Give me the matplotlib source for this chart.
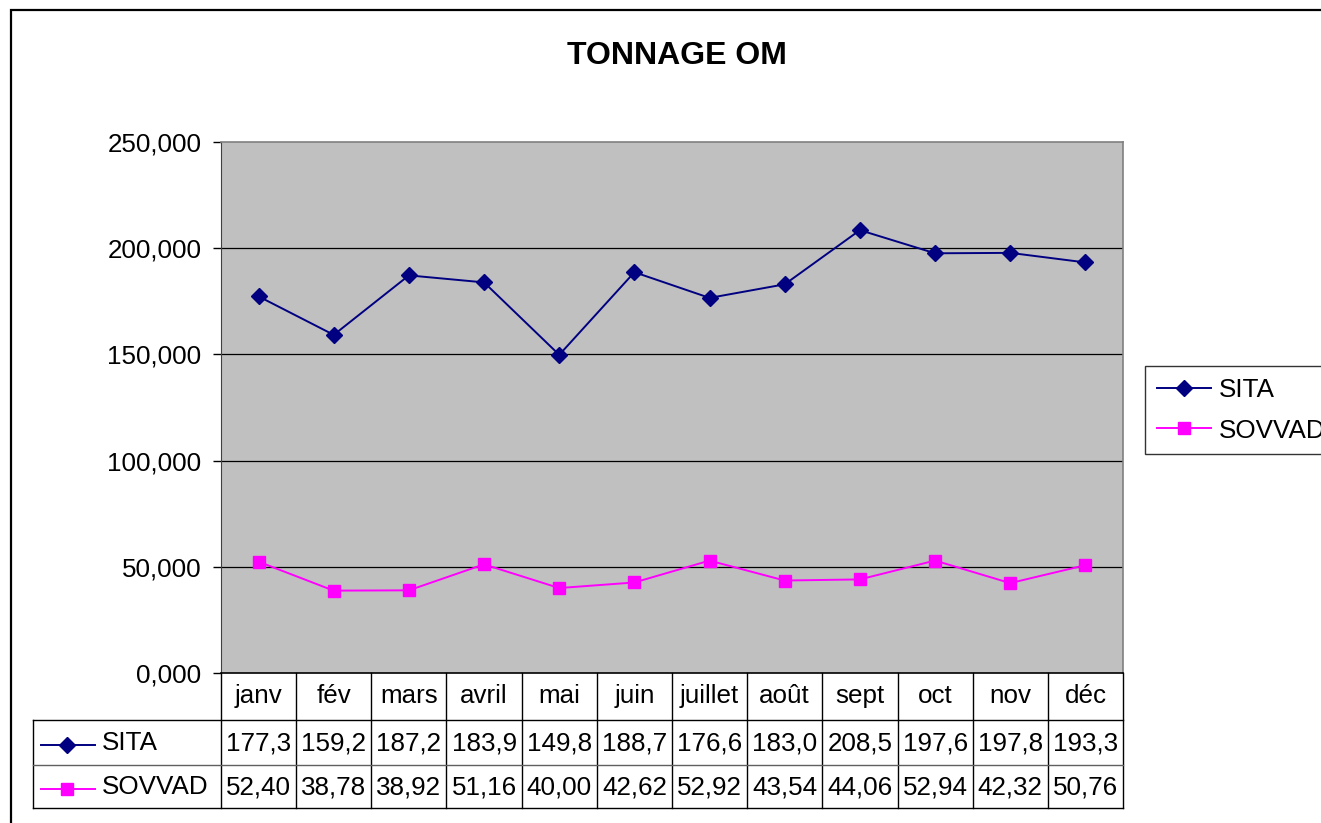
import matplotlib
matplotlib.use("Agg")
import matplotlib.pyplot as plt
from matplotlib.transforms import blended_transform_factory
from matplotlib.lines import Line2D
from matplotlib.patches import Rectangle

months = ["janv", "fév", "mars", "avril", "mai", "juin", "juillet", "août", "sept", "oct", "nov", "déc"]
sita = [177.3, 159.2, 187.2, 183.9, 149.8, 188.7, 176.6, 183.0, 208.5, 197.6, 197.8, 193.3]
sovvad = [52.40, 38.78, 38.92, 51.16, 40.00, 42.62, 52.92, 43.54, 44.06, 52.94, 42.32, 50.76]
sita_labels = ["177,3", "159,2", "187,2", "183,9", "149,8", "188,7", "176,6", "183,0", "208,5", "197,6", "197,8", "193,3"]
sovvad_labels = ["52,40", "38,78", "38,92", "51,16", "40,00", "42,62", "52,92", "43,54", "44,06", "52,94", "42,32", "50,76"]
series_names = ["SITA", "SOVVAD"]
yticks = [0, 50, 100, 150, 200, 250]
title = "TONNAGE OM"

plt.rcParams['font.family'] = ['Liberation Sans', 'DejaVu Sans']

W, H = 1321, 823
fig = plt.figure(figsize=(W / 100, H / 100), dpi=100)

def fx(px):
    return px / W

def fy(py):
    return 1 - py / H

# outer chart frame (right and bottom cut off)
fig.patches.append(Rectangle((fx(11), fy(900)), fx(1500), fy(10) - fy(900),
                             transform=fig.transFigure, fill=False,
                             edgecolor="black", linewidth=1.6, zorder=0))

L, R, T, B = 221, 1123, 142, 673
ax = fig.add_axes([fx(L), fy(B), fx(R) - fx(L), fy(T) - fy(B)])
ax.set_facecolor("#C0C0C0")
n = len(months)
x = list(range(n))
ax.set_xlim(-0.5, n - 0.5)
ax.set_ylim(0, 250)
fs = 18.7
ax.set_yticks(yticks)
ax.set_yticklabels([f"{v:.3f}".replace(".", ",") for v in yticks], fontsize=fs)
ax.tick_params(axis="y", direction="out", length=6, width=1, pad=8)
ax.set_xticks([])
for v in yticks[1:-1]:
    ax.axhline(v, color="black", linewidth=0.9, zorder=1)
for s in ["top", "right"]:
    ax.spines[s].set_color("#808080")
    ax.spines[s].set_linewidth(1.2)
ax.spines["left"].set_color("#404040")
ax.spines["bottom"].set_color("black")
ax.spines["bottom"].set_linewidth(1.2)

colors = ["#000080", "#FF00FF"]
markers = ["D", "s"]
msizes = [8.0, 8.0]
lw = 1.4
l1, = ax.plot(x, sita, color=colors[0], marker=markers[0], markersize=msizes[0],
              linewidth=lw, zorder=3, label=series_names[0])
l2, = ax.plot(x, sovvad, color=colors[1], marker=markers[1], markersize=msizes[1],
              linewidth=lw, zorder=3, label=series_names[1])

fig.text(fx(677), fy(56), title, fontsize=23, fontweight="bold",
         ha="center", va="center")

# data table
tr = blended_transform_factory(ax.transData, fig.transFigure)
y_top, y_m, y_s, y_b = 673, 720, 765, 808
lc = "black"
for i in range(n + 1):
    xb = i - 0.5
    fig.add_artist(Line2D([xb, xb], [fy(y_top), fy(y_b)], transform=tr, color=lc, linewidth=1.0))
tl = fig.transFigure
fig.add_artist(Line2D([fx(33), fx(33)], [fy(y_m), fy(y_b)], transform=tl, color=lc, linewidth=1.0))
fig.add_artist(Line2D([fx(33), fx(R)], [fy(y_m), fy(y_m)], transform=tl, color=lc, linewidth=1.0))
fig.add_artist(Line2D([fx(33), fx(R)], [fy(y_s), fy(y_s)], transform=tl, color="#606060", linewidth=1.0))
fig.add_artist(Line2D([fx(33), fx(R)], [fy(y_b), fy(y_b)], transform=tl, color=lc, linewidth=1.0))

for i, m in enumerate(months):
    fig.text(i, fy(696), m, transform=tr, ha="center", va="center", fontsize=fs)
    fig.text(i, fy(743), sita_labels[i], transform=tr, ha="center", va="center", fontsize=fs)
    fig.text(i, fy(787), sovvad_labels[i], transform=tr, ha="center", va="center", fontsize=fs)

# series keys in the table
for k, yy in enumerate([743, 787]):
    fig.add_artist(Line2D([fx(41), fx(95)], [fy(yy + 2), fy(yy + 2)], transform=tl,
                          color=colors[k], linewidth=lw))
    fig.add_artist(Line2D([fx(67)], [fy(yy + 2)], transform=tl, color=colors[k],
                          marker=markers[k], markersize=msizes[k], linestyle="none"))
    fig.text(fx(102), fy(yy), series_names[k], ha="left", va="center", fontsize=fs)

# legend (cut off at the right edge)
leg = fig.legend(handles=[l1, l2], loc="upper left",
                 bbox_to_anchor=(fx(1145), fy(366)), bbox_transform=fig.transFigure,
                 fontsize=fs, frameon=True, fancybox=False, edgecolor="black",
                 handlelength=2.1, handletextpad=0.3, borderpad=0.45,
                 labelspacing=0.65, borderaxespad=0)
leg.get_frame().set_linewidth(1.0)

fig.savefig("out.png", dpi=100)
